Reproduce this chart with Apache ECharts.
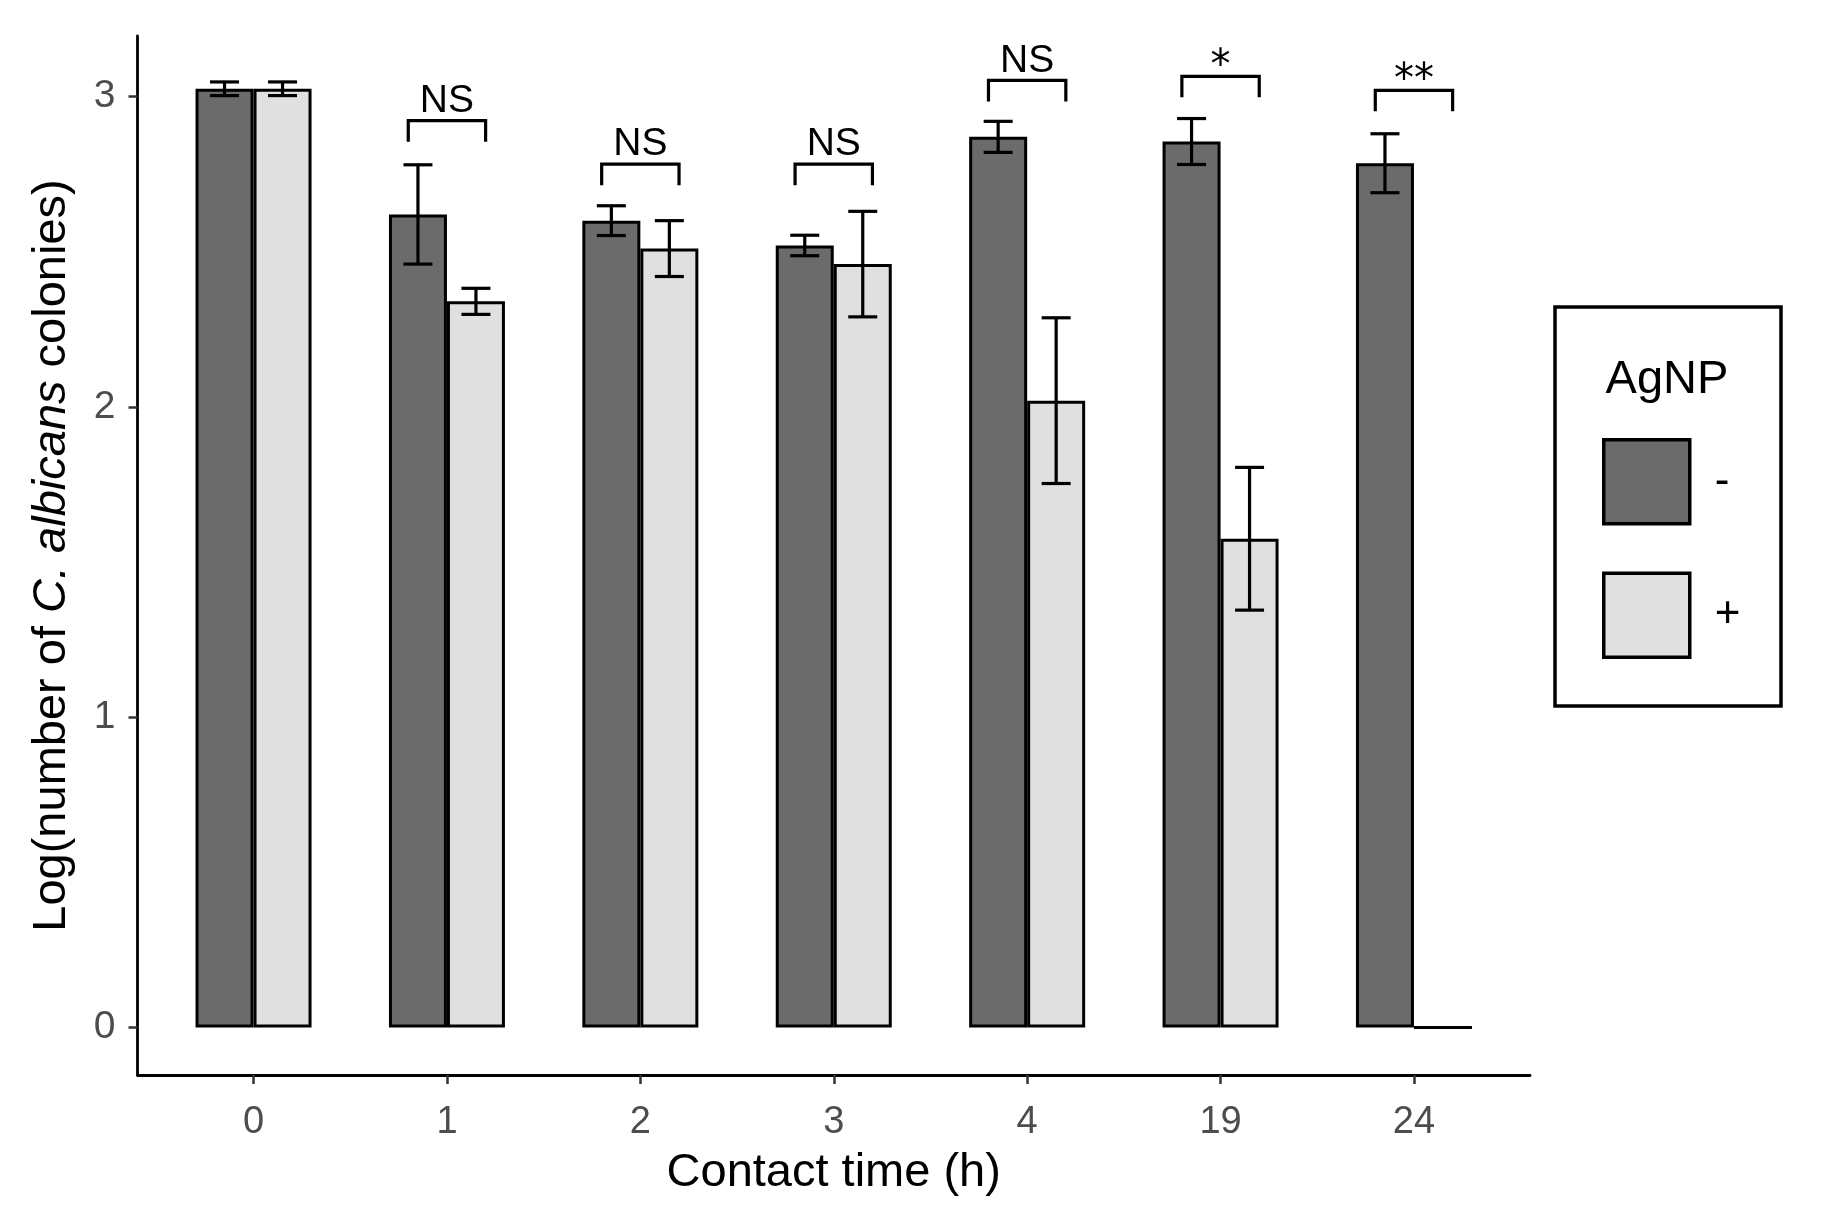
<!DOCTYPE html>
<html>
<head>
<meta charset="utf-8">
<script src="https://cdn.jsdelivr.net/npm/echarts@6/dist/echarts.min.js"></script>
<style>
html,body{margin:0;padding:0;background:#fff;}
#chart{width:1827px;height:1231px;}
</style>
</head>
<body>
<div id="chart"></div>
<script>
// ---- data ----
const categories = ['0', '1', '2', '3', '4', '19', '24'];
const minusMeans = [3.025, 2.62, 2.60, 2.52, 2.87, 2.855, 2.785];
const minusSE    = [0.022, 0.16, 0.048, 0.033, 0.05, 0.074, 0.095];
const plusMeans  = [3.025, 2.34, 2.51, 2.46, 2.02, 1.575, 0];
const plusSE     = [0.022, 0.042, 0.09, 0.17, 0.267, 0.23, null];
const bracketY      = [null, 2.922, 2.782, 2.782, 3.052, 3.065, 3.02];
const bracketLabels = [null, 'NS', 'NS', 'NS', 'NS', '*', '**'];
const yTicks = [0, 1, 2, 3];
const xTicks = categories.map((c, i) => i);
const seriesNames = ['-', '+'];
const legendTitle = 'AgNP';

// ---- style ----
const FONT = "'Liberation Sans', Arial, sans-serif";
const NARROW = "'Liberation Sans Narrow', 'Liberation Sans', Arial, sans-serif";
const DARK = '#6b6b6b';
const LIGHT = '#e0e0e0';
const BAR_W = 58;

const chart = echarts.init(document.getElementById('chart'), null, {renderer: 'canvas'});

const errData = [];
categories.forEach((c, i) => {
  if (minusSE[i] != null) errData.push([i, minusMeans[i], minusSE[i], -1]);
  if (plusSE[i] != null) errData.push([i, plusMeans[i], plusSE[i], 1]);
});
const brData = [];
categories.forEach((c, i) => {
  if (bracketY[i] != null) brData.push([i, bracketY[i], bracketLabels[i]]);
});

const option = {
  animation: false,
  backgroundColor: '#fff',
  grid: {left: 137.5, top: 36, right: 297, bottom: 156, containLabel: false},
  xAxis: {
    type: 'value', min: -0.6, max: 6.6,
    splitLine: {show: false},
    axisLine: {show: true, onZero: false, lineStyle: {color: '#000', width: 2.8}},
    axisTick: {show: true, customValues: xTicks, length: 9, lineStyle: {color: '#333', width: 2.5}},
    axisLabel: {customValues: xTicks, formatter: v => categories[Math.round(v)], fontFamily: FONT, fontSize: 38, color: '#4d4d4d', margin: 29},
    name: 'Contact time (h)', nameLocation: 'middle', nameGap: 75,
    nameTextStyle: {fontFamily: FONT, fontSize: 47, color: '#000'}
  },
  yAxis: {
    type: 'value', min: -0.153, max: 3.195,
    splitLine: {show: false},
    axisLine: {show: true, onZero: false, lineStyle: {color: '#000', width: 2.8}},
    axisTick: {show: true, customValues: yTicks, length: 9, lineStyle: {color: '#333', width: 2.5}},
    axisLabel: {customValues: yTicks, fontFamily: FONT, fontSize: 39, color: '#4d4d4d', margin: 22},
    name: '{n|Log(number of }{i|C. albicans}{n| colonies)}',
    nameLocation: 'middle', nameGap: 62, nameRotate: 90,
    nameTextStyle: {
      fontFamily: FONT, fontSize: 47, color: '#000',
      rich: {
        n: {fontFamily: FONT, fontSize: 47, color: '#000'},
        i: {fontFamily: FONT, fontSize: 47, color: '#000', fontStyle: 'italic'}
      }
    }
  },
  legend: {
    data: seriesNames, orient: 'vertical', left: 1597, top: 433,
    itemWidth: 86, itemHeight: 84, itemGap: 46, icon: 'rect', selectedMode: false,
    itemStyle: {borderColor: '#000', borderWidth: 3.5},
    textStyle: {fontFamily: FONT, fontSize: 44, color: '#000', padding: [0, 0, 0, 20]}
  },
  graphic: [
    {type: 'rect', shape: {x: 1555, y: 307, width: 226, height: 399}, style: {fill: 'none', stroke: '#000', lineWidth: 3.5}, z: 10},
    {type: 'text', x: 1667, y: 380, style: {text: legendTitle, fontFamily: FONT, fontSize: 47, fill: '#000', align: 'center', verticalAlign: 'middle'}, z: 10}
  ],
  series: [
    {
      name: seriesNames[0], type: 'bar', barWidth: BAR_W, barGap: '0%',
      data: minusMeans.map((v, i) => [i, v]),
      itemStyle: {color: DARK, borderColor: '#000', borderWidth: 3},
      z: 2
    },
    {
      name: seriesNames[1], type: 'bar', barWidth: BAR_W, barGap: '0%',
      data: plusMeans.map((v, i) => [i, v]),
      itemStyle: {color: LIGHT, borderColor: '#000', borderWidth: 3},
      z: 2
    },
    {
      type: 'custom', z: 5, silent: true,
      data: errData,
      renderItem: function (params, api) {
        const x = api.value(0), m = api.value(1), se = api.value(2), side = api.value(3);
        const top = api.coord([x, m + se]);
        const bot = api.coord([x, m - se]);
        const cx = top[0] + side * BAR_W / 2;
        const cap = 14.5;
        const st = {stroke: '#000', lineWidth: 3.2, fill: 'none'};
        return {type: 'group', children: [
          {type: 'line', shape: {x1: cx, y1: top[1], x2: cx, y2: bot[1]}, style: st},
          {type: 'line', shape: {x1: cx - cap, y1: top[1], x2: cx + cap, y2: top[1]}, style: st},
          {type: 'line', shape: {x1: cx - cap, y1: bot[1], x2: cx + cap, y2: bot[1]}, style: st}
        ]};
      }
    },
    {
      type: 'custom', z: 5, silent: true,
      data: brData,
      renderItem: function (params, api) {
        const x = api.value(0), y = api.value(1);
        const label = brData[params.dataIndex][2];
        const l = api.coord([x - 0.2, y]);
        const r = api.coord([x + 0.2, y]);
        const leg = 21;
        const st = {stroke: '#000', lineWidth: 3.2, fill: 'none'};
        const isStar = label !== 'NS';
        return {type: 'group', children: [
          {type: 'polyline', shape: {points: [[l[0], l[1] + leg], [l[0], l[1]], [r[0], r[1]], [r[0], r[1] + leg]]}, style: st},
          {type: 'text', x: (l[0] + r[0]) / 2, y: isStar ? l[1] - 9 : l[1],
           style: {text: label, fill: '#000', align: 'center',
                   verticalAlign: isStar ? 'middle' : 'bottom',
                   fontFamily: isStar ? "'DejaVu Sans', sans-serif" : NARROW,
                   fontSize: isStar ? 40 : 39}}
        ]};
      }
    }
  ]
};
chart.setOption(option);
</script>
</body>
</html>
